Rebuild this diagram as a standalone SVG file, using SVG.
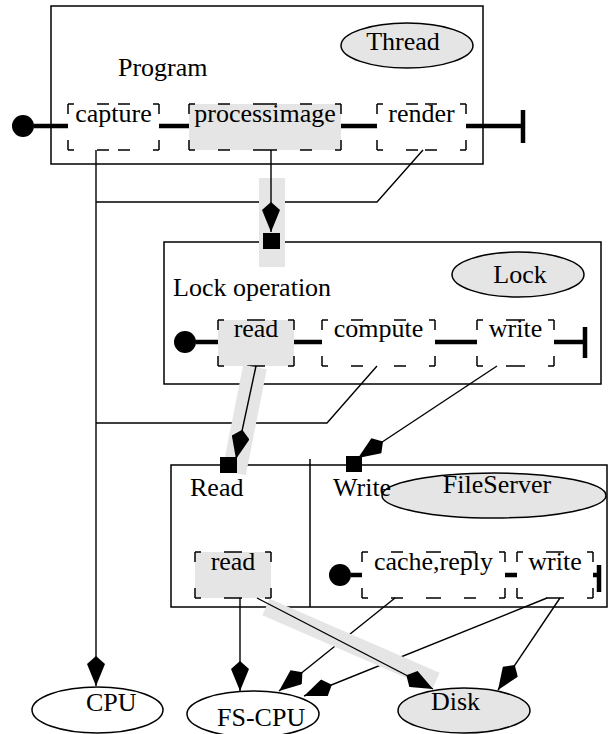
<svg xmlns="http://www.w3.org/2000/svg" width="609" height="734" viewBox="0 0 609 734">
  <style>
    .frame { fill: none; stroke: #000; stroke-width: 1.5; }
    .t { font-family: "Liberation Serif", "Times New Roman", serif; font-size: 26px; fill: #000; }
    .mid { text-anchor: middle; }
    .oval { stroke: #000; stroke-width: 1.5; }
    .grey { fill: #e5e5e5; }
    .white { fill: #fff; }
    .dh { fill: none; stroke: #000; stroke-width: 1.5; stroke-dasharray: 6 23 12 23 12 23 12 200; }
    .dv { fill: none; stroke: #000; stroke-width: 1.5; stroke-dasharray: 10 200; }
    .thick { fill: none; stroke: #000; stroke-width: 4.5; }
    .dot { fill: #000; }
    .edge { fill: none; stroke: #000; stroke-width: 1.4; }
    .band { fill: none; stroke: #e5e5e5; }
    .sq { fill: #000; }
  </style>
  <defs>
    <marker id="kite" markerUnits="userSpaceOnUse" orient="auto" viewBox="0 0 30 18" refX="30" refY="9" markerWidth="30" markerHeight="18">
      <path d="M0,9 L8,0 L30,9 L8,18 Z" fill="#000"/>
    </marker>
  </defs>

  <!-- Program / Thread -->
  <g id="program">
    <rect class="frame" x="51" y="6" width="432" height="158"/>
    <ellipse class="oval grey" cx="407" cy="45.5" rx="66" ry="22.5"/>
    <text class="t mid" x="403" y="50">Thread</text>
    <text class="t" x="118" y="76">Program</text>
    <circle class="dot" cx="23" cy="126" r="11"/>
    <path class="thick" d="M34,126 H68 M159,126 H189 M341,126 H377 M466,126 H523 M523,110 V143"/>
  </g>
  <g id="capture">
    <path class="dh" d="M68,104 H113.5 M159,104 H113.5 M68,150 H113.5 M159,150 H113.5"/>
    <path class="dv" d="M68,104 V127 M68,150 V127 M159,104 V127 M159,150 V127"/>
    <text class="t mid" x="113.5" y="122">capture</text>
  </g>
  <g id="processimage">
    <rect class="grey" x="189" y="104" width="152" height="46"/>
    <path class="dh" d="M189,104 H265 M341,104 H265 M189,150 H265 M341,150 H265"/>
    <path class="dv" d="M189,104 V127 M189,150 V127 M341,104 V127 M341,150 V127"/>
    <text class="t mid" x="265" y="122">processimage</text>
  </g>
  <g id="render">
    <path class="dh" d="M377,104 H421.5 M466,104 H421.5 M377,150 H421.5 M466,150 H421.5"/>
    <path class="dv" d="M377,104 V127 M377,150 V127 M466,104 V127 M466,150 V127"/>
    <text class="t mid" x="421.5" y="122">render</text>
  </g>

  <!-- Lock operation -->
  <g id="lockop">
    <rect class="frame" x="164" y="242" width="437" height="142"/>
    <ellipse class="oval grey" cx="518" cy="274.5" rx="66" ry="22.5"/>
    <text class="t mid" x="520" y="283">Lock</text>
    <text class="t" x="173" y="296">Lock operation</text>
    <circle class="dot" cx="185" cy="342" r="11"/>
    <path class="thick" d="M196,342 H218 M294,342 H322 M435,342 H477 M554,342 H585 M585,327 V358"/>
  </g>
  <g id="lock-read">
    <rect class="grey" x="218" y="320" width="76" height="46"/>
    <path class="dh" d="M218,320 H256 M294,320 H256 M218,366 H256 M294,366 H256"/>
    <path class="dv" d="M218,320 V343 M218,366 V343 M294,320 V343 M294,366 V343"/>
    <text class="t mid" x="256" y="337">read</text>
  </g>
  <g id="lock-compute">
    <path class="dh" d="M322,320 H378.5 M435,320 H378.5 M322,366 H378.5 M435,366 H378.5"/>
    <path class="dv" d="M322,320 V343 M322,366 V343 M435,320 V343 M435,366 V343"/>
    <text class="t mid" x="378.5" y="337">compute</text>
  </g>
  <g id="lock-write">
    <path class="dh" d="M477,320 H515.5 M554,320 H515.5 M477,366 H515.5 M554,366 H515.5"/>
    <path class="dv" d="M477,320 V343 M477,366 V343 M554,320 V343 M554,366 V343"/>
    <text class="t mid" x="515.5" y="337">write</text>
  </g>

  <!-- Read / Write on FileServer -->
  <g id="fileserver">
    <rect class="frame" x="171" y="465" width="436" height="142"/>
    <path class="frame" d="M310,459 V607"/>
    <ellipse class="oval grey" cx="494" cy="495.5" rx="112" ry="22.5"/>
    <text class="t mid" x="497" y="493">FileServer</text>
    <text class="t" x="190" y="496">Read</text>
    <text class="t" x="333" y="496">Write</text>
    <circle class="dot" cx="340" cy="575" r="11"/>
    <path class="thick" d="M351,575 H362 M505,575 H517 M593,575 H599 M599,565 V592"/>
  </g>
  <g id="fs-read">
    <rect class="grey" x="195" y="552" width="76" height="46"/>
    <path class="dh" d="M195,552 H233 M271,552 H233 M195,598 H233 M271,598 H233"/>
    <path class="dv" d="M195,552 V575 M195,598 V575 M271,552 V575 M271,598 V575"/>
    <text class="t mid" x="233" y="570">read</text>
  </g>
  <g id="fs-cache">
    <path class="dh" d="M362,552 H433.5 M505,552 H433.5 M362,598 H433.5 M505,598 H433.5"/>
    <path class="dv" d="M362,552 V575 M362,598 V575 M505,552 V575 M505,598 V575"/>
    <text class="t mid" x="433.5" y="570">cache,reply</text>
  </g>
  <g id="fs-write">
    <path class="dh" d="M517,552 H555 M593,552 H555 M517,598 H555 M593,598 H555"/>
    <path class="dv" d="M517,552 V575 M517,598 V575 M593,552 V575 M593,598 V575"/>
    <text class="t mid" x="555" y="570">write</text>
  </g>

  <!-- resources -->
  <g id="cpu">
    <ellipse class="oval white" cx="97.5" cy="710" rx="65.5" ry="23"/>
    <text class="t" x="86" y="711">CPU</text>
  </g>
  <g id="fs-cpu">
    <ellipse class="oval white" cx="253" cy="714" rx="66" ry="23"/>
    <text class="t" x="217" y="726">FS-CPU</text>
  </g>
  <g id="disk">
    <ellipse class="oval grey" cx="464" cy="710.5" rx="66" ry="22.5"/>
    <text class="t" x="431" y="710">Disk</text>
  </g>

  <!-- connectors -->
  <g id="connectors">
    <path class="edge" d="M96,150 V686" marker-end="url(#kite)"/>
    <path class="edge" d="M423,150 L377,202 H96"/>
    <path class="edge" d="M377,366 L327,423 H96"/>
    <path class="edge" d="M497,366 L358,458" marker-end="url(#kite)"/>
    <path class="edge" d="M240,598 V691" marker-end="url(#kite)"/>
    <path class="edge" d="M395,598 L279,691" marker-end="url(#kite)"/>
    <path class="edge" d="M547,598 L304,696" marker-end="url(#kite)"/>
    <path class="edge" d="M560,598 L498,690" marker-end="url(#kite)"/>

    <!-- highlighted path -->
    <rect class="grey" x="259" y="178" width="26" height="89"/>
    <path class="band" stroke-width="24" d="M255,367 L234,473"/>
    <path class="band" stroke-width="18" d="M266,607 L436,681"/>
    <path class="edge" d="M271,150 V232" marker-end="url(#kite)"/>
    <path class="edge" d="M256,366 L236,459" marker-end="url(#kite)"/>
    <path class="edge" d="M257,598 L433,689" marker-end="url(#kite)"/>

    <rect class="sq" x="263" y="233" width="17" height="16"/>
    <rect class="sq" x="220" y="457" width="17" height="16"/>
    <rect class="sq" x="346" y="456" width="16" height="16"/>
  </g>
</svg>
